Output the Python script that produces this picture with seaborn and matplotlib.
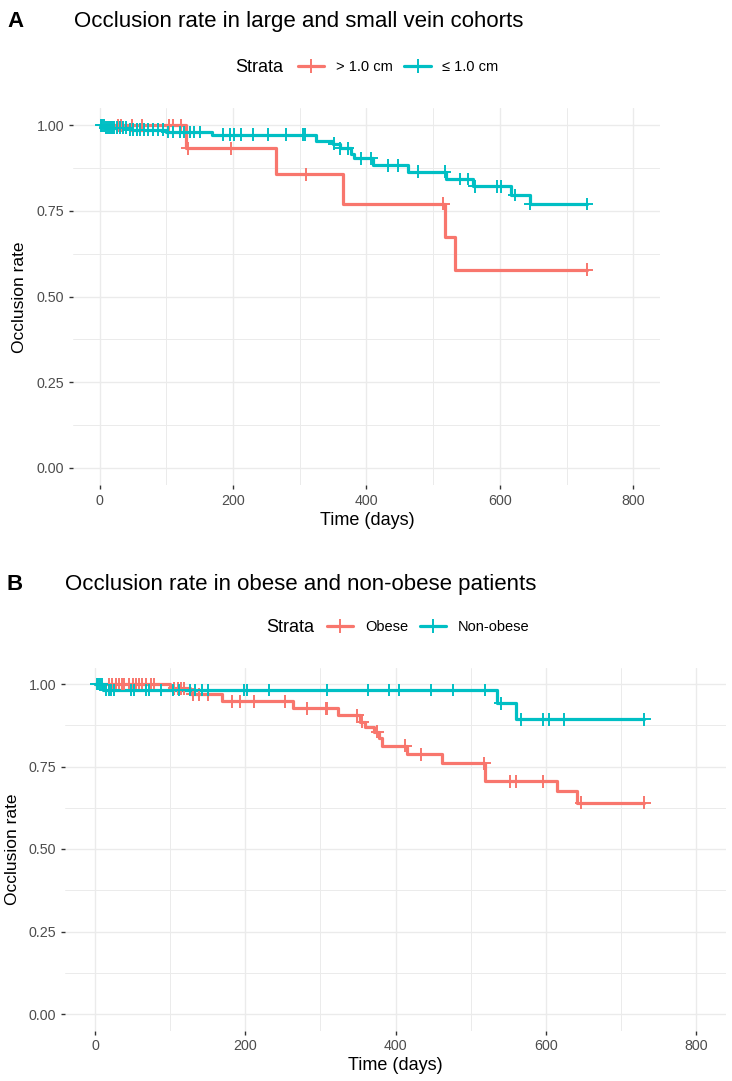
import numpy as np
import pandas as pd
import matplotlib
matplotlib.use("Agg")
import matplotlib.pyplot as plt
import seaborn as sns
from matplotlib.lines import Line2D

# Panel A: vein diameter strata (Kaplan-Meier steps)
a_labels = ["> 1.0 cm", "≤ 1.0 cm"]
a_large_t = [0, 129, 265, 365, 517, 533, 730]
a_large_s = [1.0, 0.933, 0.857, 0.771, 0.674, 0.578, 0.578]
a_large_cens = [27, 32, 48, 63, 104, 110, 122, 132, 197, 310, 515, 730]
a_small_t = [0, 8, 45, 100, 168, 325, 350, 360, 377, 382, 410, 462, 519, 560,
             617, 645, 730]
a_small_s = [1.0, 0.993, 0.987, 0.980, 0.972, 0.955, 0.946, 0.932, 0.917, 0.903,
             0.883, 0.864, 0.843, 0.822, 0.796, 0.770, 0.770]
a_small_cens = [2, 4, 6, 9, 12, 15, 18, 22, 26, 30, 35, 40, 45, 50, 56, 60, 67, 72,
                80, 87, 95, 102, 110, 120, 126, 135, 142, 150, 185, 195, 202, 212,
                230, 252, 280, 305, 308, 352, 360, 372, 392, 407, 432, 447, 477,
                517, 540, 552, 562, 595, 602, 622, 645, 730]

# Panel B: obesity strata
b_labels = ["Obese", "Non-obese"]
b_obese_t = [0, 100, 127, 169, 264, 324, 353, 360, 371, 378, 382, 415, 462, 519,
             615, 642, 731]
b_obese_s = [1.0, 0.987, 0.969, 0.947, 0.926, 0.906, 0.886, 0.871, 0.856, 0.836,
             0.813, 0.787, 0.760, 0.705, 0.675, 0.640, 0.640]
b_obese_cens = [19, 23, 28, 32, 36, 39, 45, 50, 54, 59, 63, 68, 74, 79, 105, 110,
                114, 119, 130, 139, 150, 182, 193, 211, 253, 282, 307, 309, 349,
                356, 376, 413, 434, 518, 552, 560, 596, 647, 731]
b_non_t = [0, 10, 535, 560, 731]
b_non_s = [1.0, 0.982, 0.942, 0.893, 0.893]
b_non_cens = [2, 4, 6, 9, 14, 19, 21, 25, 48, 52, 68, 72, 88, 104, 112, 127, 133,
              142, 151, 198, 202, 231, 309, 364, 391, 404, 447, 477, 519, 540,
              567, 596, 604, 624, 731]

palette = ["#F8766D", "#00BFC4"]


def km_frames(groups):
    curves, cens = [], []
    for label, t, s, c in groups:
        curves.append(pd.DataFrame({"time": t, "surv": s, "strata": label}))
        t = np.asarray(t)
        s = np.asarray(s)
        idx = np.searchsorted(t, c, side="right") - 1
        cens.append(pd.DataFrame({"time": c, "surv": s[idx], "strata": label}))
    return pd.concat(curves, ignore_index=True), pd.concat(cens, ignore_index=True)


sns.set_theme(style="white")
plt.rcParams["font.family"] = ["Liberation Sans", "DejaVu Sans"]
plt.rcParams["text.color"] = "black"

W, H = 732, 1081
fig = plt.figure(figsize=(W / 100, H / 100), dpi=100)


def fx(x):
    return x / W


def fy(y):
    return 1 - y / H


def px_axes(left, top, right, bottom):
    return fig.add_axes([fx(left), fy(bottom), (right - left) / W, (bottom - top) / H])


def draw_panel(ax, groups, labels):
    curves, cens = km_frames(groups)
    pal = dict(zip(labels, palette))
    sns.lineplot(data=curves, x="time", y="surv", hue="strata", hue_order=labels,
                 palette=pal, drawstyle="steps-post", estimator=None, sort=False,
                 linewidth=2.3, legend=False, ax=ax)
    sns.scatterplot(data=cens, x="time", y="surv", hue="strata", hue_order=labels,
                    palette=pal, marker="+", s=85, linewidth=1.4, legend=False,
                    ax=ax, zorder=3)
    ax.set_xlim(-40, 840)
    ax.set_ylim(-0.05, 1.05)
    ax.set_xticks([0, 200, 400, 600, 800])
    ax.set_xticks([100, 300, 500, 700], minor=True)
    ax.set_yticks([0, 0.25, 0.5, 0.75, 1.0])
    ax.set_yticklabels(["0.00", "0.25", "0.50", "0.75", "1.00"])
    ax.set_yticks([0.125, 0.375, 0.625, 0.875], minor=True)
    ax.grid(which="major", color="#EBEBEB", linewidth=1.0)
    ax.grid(which="minor", color="#EBEBEB", linewidth=0.7)
    ax.set_axisbelow(True)
    for sp in ax.spines.values():
        sp.set_visible(False)
    ax.tick_params(which="major", direction="out", length=3.2, width=1.0,
                   color="#333333", labelcolor="#4D4D4D", labelsize=10.3, pad=3,
                   bottom=True, left=True)
    ax.tick_params(which="minor", length=0)
    ax.set_xlabel("")
    ax.set_ylabel("")


def add_texts(letter, title, base_y, title_x, xlab_xy, ylab_xy):
    fig.text(fx(7), fy(base_y), letter, fontsize=16, fontweight="bold",
             va="baseline", ha="left", color="black")
    fig.text(fx(title_x), fy(base_y), title, fontsize=16, va="baseline", ha="left",
             color="black")
    fig.text(fx(xlab_xy[0]), fy(xlab_xy[1]), "Time (days)", fontsize=13,
             ha="center", va="center", color="black")
    fig.text(fx(ylab_xy[0]), fy(ylab_xy[1]), "Occlusion rate", fontsize=12.5,
             ha="center", va="center", rotation=90, color="black")


def add_legend(y, strata_x, leg_x, labels):
    fig.text(fx(strata_x), fy(y), "Strata", fontsize=13, ha="left", va="center",
             color="black")
    handles = [Line2D([], [], color=c, linewidth=2.3, marker="+", markersize=9.5,
                      markeredgewidth=1.4) for c in palette]
    leg = fig.legend(handles, labels, loc="center left",
                     bbox_to_anchor=(fx(leg_x), fy(y)), ncol=2, frameon=False,
                     fontsize=10.5, handlelength=1.8, handletextpad=0.8,
                     columnspacing=0.8, borderpad=0, borderaxespad=0)
    for t in leg.get_texts():
        t.set_color("black")


# Panel A
ax_a = px_axes(73, 108, 660, 485)
draw_panel(ax_a, [(a_labels[0], a_large_t, a_large_s, a_large_cens),
                  (a_labels[1], a_small_t, a_small_s, a_small_cens)], a_labels)
add_texts("A", "Occlusion rate in large and small vein cohorts", 27, 74,
          (367, 520), (20, 297))
add_legend(67, 235, 298, a_labels)

# Panel B
ax_b = px_axes(65, 667.5, 726, 1030.5)
draw_panel(ax_b, [(b_labels[0], b_obese_t, b_obese_s, b_obese_cens),
                  (b_labels[1], b_non_t, b_non_s, b_non_cens)], b_labels)
add_texts("B", "Occlusion rate in obese and non-obese patients", 590, 65,
          (395, 1066), (13, 849))
add_legend(627, 266, 327, b_labels)

fig.savefig("out.png", dpi=100)
